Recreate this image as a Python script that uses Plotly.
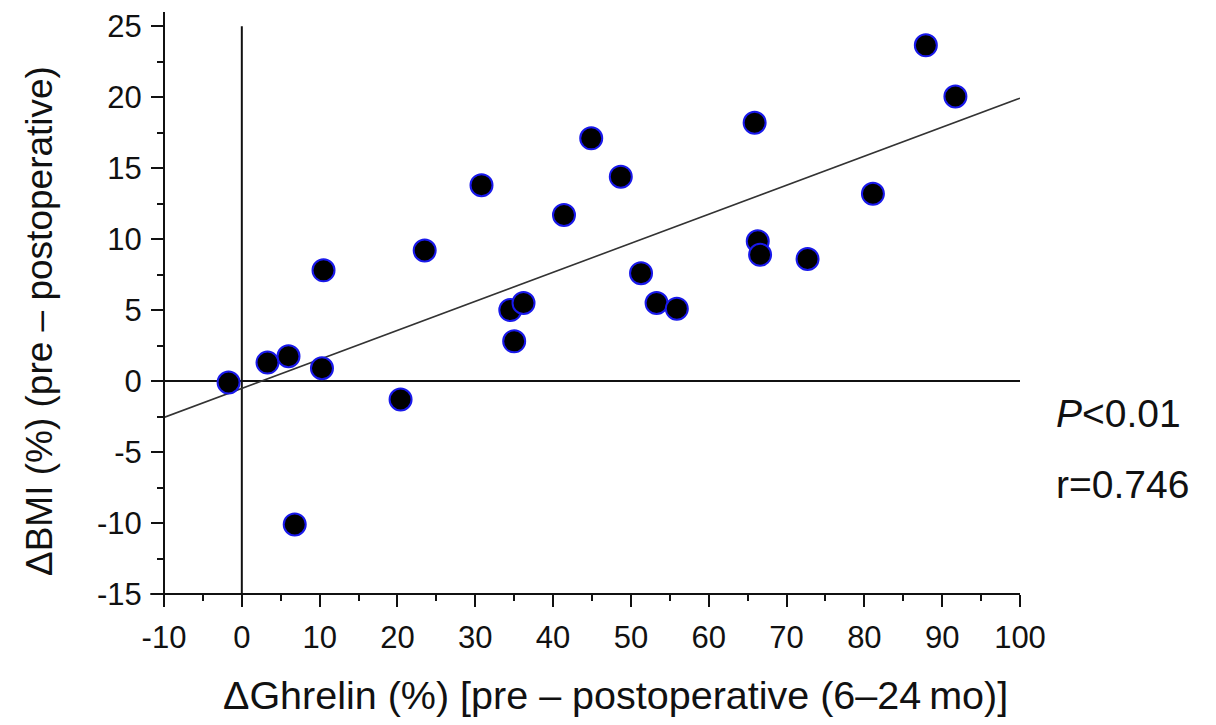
import numpy as np
import plotly.graph_objects as go

# Change in ghrelin (%) and change in BMI (%), pre minus postoperative
ghrelin_change = [-1.7, 3.3, 6.0, 10.3, 10.5, 6.8, 20.4, 23.5, 30.8, 34.5, 35.0, 36.2,
                  41.4, 44.9, 48.7, 51.3, 53.3, 55.9, 65.9, 66.3, 66.6, 72.7, 81.1, 87.9, 91.7]
bmi_change = [-0.1, 1.3, 1.75, 0.9, 7.8, -10.1, -1.3, 9.2, 13.8, 5.0, 2.8, 5.5,
              11.7, 17.1, 14.4, 7.6, 5.5, 5.1, 18.2, 9.85, 8.9, 8.6, 13.2, 23.65, 20.05]

x_ticks = [-10, 0, 10, 20, 30, 40, 50, 60, 70, 80, 90, 100]
y_ticks = [-15, -10, -5, 0, 5, 10, 15, 20, 25]
p_text = "<i>P</i>&lt;0.01"
r_text = "r=0.746"
x_title = "\u0394Ghrelin (%) [pre \u2013 postoperative (6\u201324\u2009mo)]"
y_title = "\u0394BMI (%) (pre \u2013 postoperative)"

FONT = "Liberation Sans, Arial, sans-serif"
INK = "#111111"

# least-squares regression line
slope, intercept = np.polyfit(ghrelin_change, bmi_change, 1)
fit_x = [x_ticks[0], x_ticks[-1]]
fit_y = [slope * v + intercept for v in fit_x]

fig = go.Figure()
fig.add_trace(go.Scatter(
    x=fit_x, y=fit_y, mode="lines",
    line=dict(color="#333333", width=1.6),
    hoverinfo="skip", showlegend=False,
))
fig.add_trace(go.Scatter(
    x=ghrelin_change, y=bmi_change, mode="markers",
    marker=dict(size=22, color="black", line=dict(color="rgb(25,25,235)", width=2)),
    showlegend=False,
))

# reference lines through zero
fig.add_shape(type="line", xref="x", yref="y", x0=0, x1=0, y0=-15, y1=25,
              line=dict(color=INK, width=2), layer="below")
fig.add_shape(type="line", xref="x", yref="y", x0=-10, x1=100, y0=0, y1=0,
              line=dict(color=INK, width=2), layer="below")

# axis spines, crossing slightly past the corner
fig.add_shape(type="line", xref="paper", yref="paper", x0=-0.016, x1=1, y0=0, y1=0,
              line=dict(color=INK, width=2))
fig.add_shape(type="line", xref="paper", yref="paper", x0=0, x1=0, y0=-0.022, y1=1,
              line=dict(color=INK, width=2))

fig.add_annotation(text=p_text, xref="paper", yref="y", x=1.04, y=-2.3,
                   xanchor="left", yanchor="middle", showarrow=False,
                   font=dict(family=FONT, size=39, color=INK))
fig.add_annotation(text=r_text, xref="paper", yref="y", x=1.04, y=-7.3,
                   xanchor="left", yanchor="middle", showarrow=False,
                   font=dict(family=FONT, size=39, color=INK))
fig.add_annotation(text=x_title, xref="paper", yref="paper", x=0.527, y=-0.173,
                   xanchor="center", yanchor="middle", showarrow=False,
                   font=dict(family=FONT, size=39.5, color=INK))
fig.add_annotation(text=y_title, xref="paper", yref="paper", x=-0.146, y=0.469,
                   xanchor="center", yanchor="middle", showarrow=False, textangle=-90,
                   font=dict(family=FONT, size=37, color=INK))

fig.update_xaxes(
    range=[-10, 100], tickvals=x_ticks, ticktext=[str(v) for v in x_ticks],
    showgrid=False, zeroline=False, showline=False,
    ticks="outside", ticklen=12, tickwidth=2, tickcolor=INK,
    ticklabelstandoff=4,
    minor=dict(tickvals=[v + 5 for v in x_ticks[:-1]], ticks="outside",
               ticklen=6, tickwidth=2, tickcolor=INK, showgrid=False),
    tickfont=dict(family=FONT, size=31, color=INK),
)
fig.update_yaxes(
    range=[-15, 26], tickvals=y_ticks, ticktext=[str(v) for v in y_ticks],
    showgrid=False, zeroline=False, showline=False,
    ticks="outside", ticklen=12, tickwidth=2, tickcolor=INK,
    ticklabelstandoff=3,
    minor=dict(tickvals=[v + 2.5 for v in y_ticks[:-1]], ticks="outside",
               ticklen=6, tickwidth=2, tickcolor=INK, showgrid=False),
    tickfont=dict(family=FONT, size=31, color=INK),
)
fig.update_layout(
    width=1216, height=725,
    margin=dict(l=164, r=196, t=9, b=131),
    plot_bgcolor="white", paper_bgcolor="white",
)

fig.write_html("out.html")
